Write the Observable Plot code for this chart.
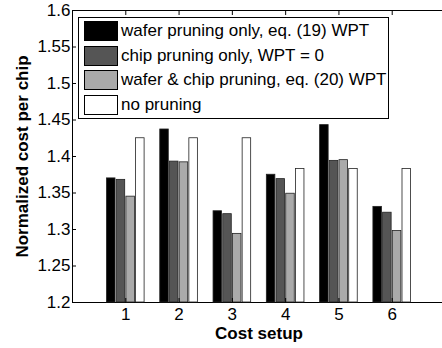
<!DOCTYPE html>
<html><head><meta charset="utf-8">
<script src="https://cdn.jsdelivr.net/npm/d3@7"></script>
<script src="https://cdn.jsdelivr.net/npm/@observablehq/plot@0.6"></script>
<style>
html,body{margin:0;padding:0;background:#fff;overflow:hidden;}
#wrap{position:relative;width:442px;height:348px;font-family:"Liberation Sans",Arial,Helvetica,sans-serif;}
#legend{position:absolute;left:78px;top:17px;width:309px;height:100px;border:1px solid #000;background:#fff;}
.row{position:absolute;left:5px;height:20px;display:flex;align-items:center;}
.sw{width:32px;height:18px;border:1px solid #000;}
.lab{margin-left:3px;font-size:17px;line-height:20px;white-space:nowrap;color:#000;}
</style></head>
<body><div id="wrap"></div>
<script>
const setups = [1, 2, 3, 4, 5, 6];
const seriesNames = ["wafer pruning only, eq. (19) WPT", "chip pruning only, WPT = 0", "wafer & chip pruning, eq. (20) WPT", "no pruning"];
const seriesColors = ["#000000", "#555555", "#aaaaaa", "#ffffff"];
const waferOnly = [1.370, 1.437, 1.325, 1.375, 1.443, 1.331];
const chipOnly  = [1.368, 1.393, 1.321, 1.369, 1.394, 1.323];
const waferChip = [1.345, 1.392, 1.294, 1.349, 1.395, 1.298];
const noPruning = [1.425, 1.425, 1.425, 1.383, 1.383, 1.383];
const yTicks = [1.2, 1.25, 1.3, 1.35, 1.4, 1.45, 1.5, 1.55, 1.6];
const xTicks = [1, 2, 3, 4, 5, 6];
const xTitle = "Cost setup";
const yTitle = "Normalized cost per chip";

const seriesValues = [waferOnly, chipOnly, waferChip, noPruning];
const slot = 0.182, barW = 0.16;
const yMin = yTicks[0];
const data = [];
seriesValues.forEach((vals, k) => vals.forEach((v, i) => data.push({setup: setups[i], k, series: seriesNames[k], value: v})));

const fmt = d => String(+d.toFixed(2));

const chart = Plot.plot({
  width: 442, height: 348,
  marginLeft: 72, marginRight: -3, marginTop: 10, marginBottom: 46,
  style: {fontFamily: '"Liberation Sans", Arial, Helvetica, sans-serif', fontSize: "17px", color: "#000", background: "#fff"},
  x: {domain: [0, 7], label: null},
  y: {domain: [yTicks[0], yTicks[yTicks.length - 1]], label: null},
  color: {domain: seriesNames, range: seriesColors},
  marks: [
    Plot.frame({stroke: "#000", strokeWidth: 1}),
    Plot.rect(data, {
      x1: d => d.setup + (d.k - 1.5) * slot - barW / 2,
      x2: d => d.setup + (d.k - 1.5) * slot + barW / 2,
      y1: yMin, y2: "value", fill: "series", stroke: "#222", strokeWidth: 0.8
    }),
    Plot.axisY(yTicks, {anchor: "left", tickSize: 0, tickPadding: 2, tickFormat: fmt, fontSize: 17, label: null}),
    Plot.axisY(yTicks, {anchor: "left", tickSize: 4, dx: 4, fill: "none", label: null}),
    Plot.axisY(yTicks, {anchor: "right", tickSize: 4, dx: -4, fill: "none", label: null}),
    Plot.axisX(xTicks, {anchor: "bottom", tickSize: 0, tickPadding: 5, fontSize: 17, label: null}),
    Plot.axisX(xTicks, {anchor: "bottom", tickSize: 4, dy: -4, fill: "none", label: null}),
    Plot.axisX(xTicks, {anchor: "top", tickSize: 4, dy: 4, fill: "none", label: null}),
    Plot.text([xTitle], {frameAnchor: "bottom", textAnchor: "middle", dy: 36, lineAnchor: "bottom", fontWeight: "bold", fontSize: 17}),
    Plot.text([yTitle], {frameAnchor: "left", textAnchor: "middle", lineAnchor: "middle", rotate: -90, dx: -50, fontWeight: "bold", fontSize: 17})
  ]
});
const wrap = document.getElementById("wrap");
wrap.appendChild(chart);

const legend = document.createElement("div");
legend.id = "legend";
seriesNames.forEach((name, k) => {
  const row = document.createElement("div");
  row.className = "row";
  row.style.top = (3 + k * 24.6) + "px";
  const sw = document.createElement("div");
  sw.className = "sw";
  sw.style.background = seriesColors[k];
  const lab = document.createElement("span");
  lab.className = "lab";
  lab.textContent = name;
  row.appendChild(sw); row.appendChild(lab);
  legend.appendChild(row);
});
wrap.appendChild(legend);
</script>
</body></html>
